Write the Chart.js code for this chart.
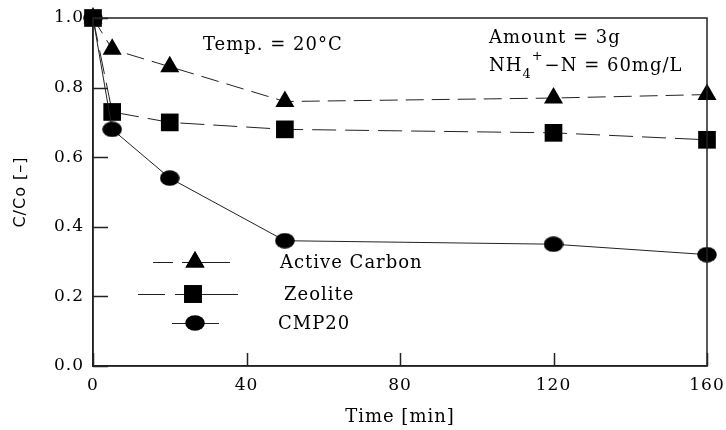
<!DOCTYPE html>
<html>
<head>
<meta charset="utf-8">
<script src="https://cdn.jsdelivr.net/npm/chart.js@4/dist/chart.umd.min.js"></script>
<style>
  html, body { margin: 0; padding: 0; background: #fff; }
  #wrap { width: 726px; height: 430px; }
</style>
</head>
<body>
<div id="wrap"><canvas id="chart" width="726" height="430"></canvas></div>
<script>
// ---- data ----
const times = [0, 5, 20, 50, 120, 160];
const activeCarbon = [1.0, 0.91, 0.86, 0.76, 0.77, 0.78];
const zeolite = [1.0, 0.73, 0.70, 0.68, 0.67, 0.65];
const cmp20 = [1.0, 0.68, 0.54, 0.36, 0.35, 0.32];
const seriesNames = ["Active Carbon", "Zeolite", "CMP20"];
const xTickValues = [0, 40, 80, 120, 160];
const yTickValues = [0, 0.2, 0.4, 0.6, 0.8, 1.0];

const FONT = "'DejaVu Serif', 'Liberation Serif', serif";
const SANS = "'DejaVu Sans', sans-serif";
const INK = "#000";
const LINE = "#222";

// flattened circle marker
const ellipse = document.createElement("canvas");
ellipse.width = 20;
ellipse.height = 16;
(function () {
    const c = ellipse.getContext("2d");
    c.fillStyle = INK;
    c.beginPath();
    c.ellipse(10, 8, 9.8, 7.8, 0, 0, Math.PI * 2);
    c.fill();
})();

function toPoints(ys) {
    return times.map((t, i) => ({ x: t, y: ys[i] }));
}

// a little letter spacing like the scanned figure
const spacing = {
    id: "spacing",
    beforeDraw(chart) {
        chart.ctx.letterSpacing = "1px";
    }
};

// frame, inward ticks, notes and legend
const decorations = {
    id: "decorations",
    afterDatasetsDraw(chart) {
        const { ctx, chartArea: a, scales } = chart;
        ctx.save();
        ctx.strokeStyle = LINE;
        ctx.lineWidth = 1.5;
        ctx.setLineDash([]);
        ctx.strokeRect(a.left, a.top, a.right - a.left, a.bottom - a.top);

        // inward ticks
        ctx.beginPath();
        yTickValues.forEach(v => {
            const y = Math.round(scales.y.getPixelForValue(v)) + 0.5;
            ctx.moveTo(a.left, y);
            ctx.lineTo(a.left + 15, y);
        });
        xTickValues.forEach(v => {
            const x = Math.round(scales.x.getPixelForValue(v)) + 0.5;
            ctx.moveTo(x, a.bottom);
            ctx.lineTo(x, a.bottom - 13);
        });
        ctx.stroke();

        // notes
        ctx.fillStyle = INK;
        ctx.font = "18px " + FONT;
        ctx.textBaseline = "middle";
        ctx.textAlign = "left";
        ctx.fillText("Temp. = 20\u00B0C", 203, 45);
        ctx.fillText("Amount = 3g", 489, 38);
        let x = 489;
        ctx.fillText("NH", x, 66);
        x += ctx.measureText("NH").width;
        ctx.font = "13px " + FONT;
        ctx.fillText("4", x, 75);
        x += ctx.measureText("4").width;
        ctx.fillText("+", x, 57);
        x += ctx.measureText("+").width + 1;
        ctx.font = "18px " + FONT;
        ctx.fillText("\u2212N = 60mg/L", x, 66);

        // legend
        const rows = [
            { y: 262, segs: [[153, 173], [182, 208], [208, 230]], mx: 195, tx: 280 },
            { y: 294, segs: [[138, 165], [175, 211], [211, 238]], mx: 193, tx: 284 },
            { y: 323, segs: [[172, 219]], mx: 195, tx: 278 }
        ];
        chart.data.datasets.forEach((ds, i) => {
            const r = rows[i];
            ctx.strokeStyle = LINE;
            ctx.lineWidth = 1;
            ctx.beginPath();
            r.segs.forEach(s => {
                ctx.moveTo(s[0], r.y + 0.5);
                ctx.lineTo(s[1], r.y + 0.5);
            });
            ctx.stroke();
            ctx.fillStyle = INK;
            if (ds.pointStyle === "triangle" || ds.pointStyle === "rect") {
                ctx.beginPath();
                Chart.helpers.drawPoint(ctx, { pointStyle: ds.pointStyle, radius: ds.pointRadius, borderWidth: 0 }, r.mx, r.y);
                ctx.fill();
            } else {
                ctx.drawImage(ellipse, r.mx - 10, r.y - 8);
            }
            ctx.font = "18px " + FONT;
            ctx.textAlign = "left";
            ctx.fillText(seriesNames[i], r.tx, r.y + 1);
        });
        ctx.restore();
    }
};

new Chart(document.getElementById("chart"), {
    type: "scatter",
    data: {
        datasets: [
            {
                label: seriesNames[0],
                data: toPoints(activeCarbon),
                showLine: true,
                borderColor: LINE,
                borderWidth: 1,
                borderDash: [18, 8],
                backgroundColor: INK,
                pointStyle: "triangle",
                pointRadius: 11,
                pointBorderWidth: 0,
                order: 2,
                clip: false
            },
            {
                label: seriesNames[1],
                data: toPoints(zeolite),
                showLine: true,
                borderColor: LINE,
                borderWidth: 1,
                borderDash: [24, 9],
                backgroundColor: INK,
                pointStyle: "rect",
                pointRadius: 12.5,
                pointBorderWidth: 0,
                order: 1,
                clip: false
            },
            {
                label: seriesNames[2],
                data: toPoints(cmp20),
                showLine: true,
                borderColor: LINE,
                borderWidth: 1,
                backgroundColor: INK,
                pointStyle: ellipse,
                pointRadius: 10,
                pointBorderWidth: 0,
                order: 0,
                clip: false
            }
        ]
    },
    options: {
        responsive: false,
        animation: false,
        layout: { padding: { top: 18, right: 19, left: 0, bottom: 0 } },
        plugins: {
            legend: { display: false },
            tooltip: { enabled: false }
        },
        scales: {
            x: {
                type: "linear",
                min: 0,
                max: 160,
                afterBuildTicks: s => { s.ticks = xTickValues.map(v => ({ value: v })); },
                afterFit: s => { s.height = 64; },
                grid: { display: false },
                border: { display: true, color: LINE, width: 1.5 },
                ticks: {
                    padding: 1,
                    color: INK,
                    font: { family: FONT, size: 17 }
                },
                title: {
                    display: true,
                    text: "Time [min]",
                    color: INK,
                    font: { family: FONT, size: 18 },
                    padding: { top: 0, bottom: 2 }
                }
            },
            y: {
                min: 0,
                max: 1,
                afterBuildTicks: s => { s.ticks = yTickValues.map(v => ({ value: v })); },
                afterFit: s => { s.width = 93; },
                grid: { display: false },
                border: { display: true, color: LINE, width: 1.5 },
                ticks: {
                    padding: 1,
                    color: INK,
                    font: { family: FONT, size: 17 },
                    callback: v => v.toFixed(1)
                },
                title: {
                    display: true,
                    text: "C/Co [\u2013]",
                    color: INK,
                    font: { family: SANS, size: 16 },
                    padding: { top: 11, bottom: 0 }
                }
            }
        }
    },
    plugins: [spacing, decorations]
});
</script>
</body>
</html>
